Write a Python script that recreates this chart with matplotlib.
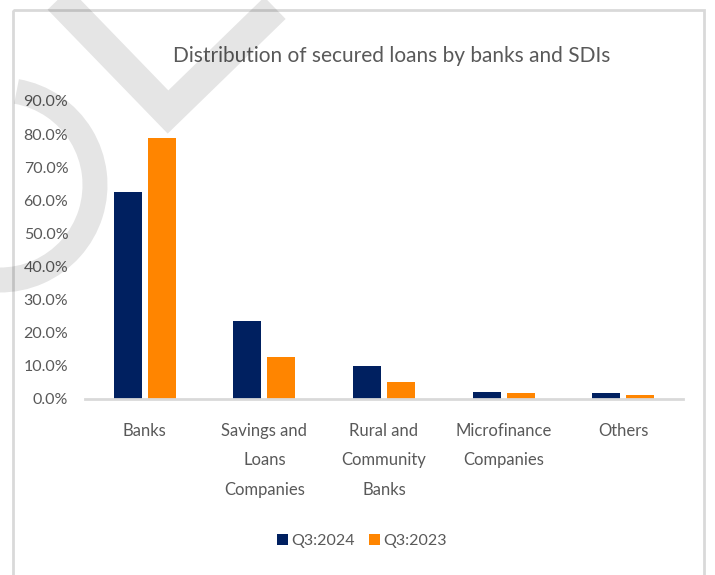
import matplotlib
matplotlib.use("Agg")
from matplotlib import pyplot as plt
from matplotlib.patches import Rectangle, Arc
import numpy as np

categories = ["Banks", "Savings and\nLoans\nCompanies", "Rural and\nCommunity\nBanks",
              "Microfinance\nCompanies", "Others"]
q3_2024 = [0.625, 0.236, 0.100, 0.021, 0.018]
q3_2023 = [0.789, 0.127, 0.051, 0.017, 0.012]
series_names = ["Q3:2024", "Q3:2023"]
yticks = [0.0, 0.1, 0.2, 0.3, 0.4, 0.5, 0.6, 0.7, 0.8, 0.9]

navy = "#002060"
orange = "#FF8500"
txt = "#595959"
grey_line = "#D9D9D9"

plt.rcParams["font.family"] = ["Lato", "DejaVu Sans"]

W, H = 715, 575
fig = plt.figure(figsize=(W / 100, H / 100), dpi=100)
ax = fig.add_axes([85 / W, (H - 399) / H, 598 / W, 298 / H])

x = np.arange(len(categories))
bw = 0.234
off = 0.142
ax.bar(x - off, q3_2024, bw, color=navy, label=series_names[0], zorder=2)
ax.bar(x + off, q3_2023, bw, color=orange, label=series_names[1], zorder=2)

ax.set_xlim(-0.5, len(categories) - 0.5)
ax.set_ylim(0, 0.9)
ax.set_yticks(yticks)
ax.set_yticklabels([f"{v * 100:.1f}%" for v in yticks], color=txt, fontsize=11.5)
ax.set_xticks(x)
ax.set_xticklabels(categories, color=txt, fontsize=12, linespacing=2.05, va="top")
ax.tick_params(axis="both", length=0)
ax.tick_params(axis="y", pad=12)
ax.tick_params(axis="x", pad=17)
for s in ["top", "right", "left"]:
    ax.spines[s].set_visible(False)
ax.spines["bottom"].set_color(grey_line)
ax.spines["bottom"].set_linewidth(2)

fig.text(392 / W, 1 - 56 / H, "Distribution of secured loans by banks and SDIs",
         ha="center", va="center", fontsize=15, color=txt)

leg = fig.legend(loc="center", bbox_to_anchor=(362 / W, 1 - 541 / H), ncol=2, frameon=False,
                 fontsize=11.5, handlelength=0.7, handleheight=0.7, handletextpad=0.2,
                 columnspacing=0.9, labelcolor=txt)

# chart frame and watermark drawn in pixel coordinates
over = fig.add_axes([0, 0, 1, 1], zorder=10)
over.set_xlim(0, W)
over.set_ylim(H, 0)
over.axis("off")
over.patch.set_alpha(0)
over.add_patch(Rectangle((13, 10), 691, 600, fill=False, edgecolor=grey_line, lw=2))
over.plot([45, 168, 275], [-15, 112, 8], color="black", alpha=0.1, lw=22,
          solid_joinstyle="miter", solid_capstyle="butt")
over.add_patch(Arc((0, 185), 190, 190, theta1=-80, theta2=115, color="black",
                   alpha=0.1, lw=18))

fig.savefig("out.png", dpi=100)
